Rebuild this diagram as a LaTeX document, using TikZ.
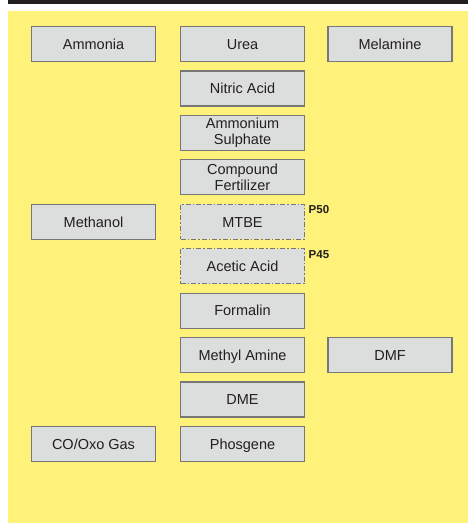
\documentclass[tikz,border=0pt]{standalone}
\usepackage{fontspec}
\setmainfont{Liberation Sans}
\definecolor{bgyellow}{HTML}{FFF27A}
\definecolor{boxfill}{HTML}{DCDDDD}
\definecolor{boxline}{HTML}{777777}
\definecolor{ink}{HTML}{231F20}
\begin{document}
\begin{tikzpicture}[x=1pt,y=-1pt,
  base/.style={draw=boxline, line width=1.3pt, fill=boxfill, minimum width=124pt, minimum height=35pt,
    inner sep=0pt, align=center, text=ink, font=\fontsize{14.5}{15.8}\selectfont},
  prod/.style={base, text height=13pt, text depth=2.6pt},
  prodtwo/.style={base},
  planned/.style={prod, dash pattern=on 5pt off 2pt on 1.5pt off 2pt},
  tag/.style={anchor=west, inner sep=0pt, text=ink, font=\fontsize{11.5}{12}\selectfont\bfseries}]
\useasboundingbox (0,0) rectangle (468,524);
\fill[ink] (8,0) rectangle (468,4);
\fill[bgyellow] (8,11) rectangle (468,523);
\def\ca{93.5}\def\cb{242.5}\def\cc{390}
\node[prod] (ammonia) at (\ca,44) {Ammonia};
\node[prod] (urea) at (\cb,44) {Urea};
\node[prod] (melamine) at (\cc,44) {Melamine};
\node[prod] (nitric) at (\cb,88.4) {Nitric Acid};
\node[prodtwo] (sulphate) at (\cb,132.9) {Ammonium\\Sulphate};
\node[prodtwo] (compound) at (\cb,177.3) {Compound\\Fertilizer};
\node[prod] (methanol) at (\ca,221.8) {Methanol};
\node[planned] (mtbe) at (\cb,221.8) {MTBE};
\node[planned] (acetic) at (\cb,266.2) {Acetic Acid};
\node[prod] (formalin) at (\cb,310.7) {Formalin};
\node[prod] (amine) at (\cb,355.1) {Methyl Amine};
\node[prod] (dmf) at (\cc,355.1) {DMF};
\node[prod] (dme) at (\cb,399.6) {DME};
\node[prod] (oxo) at (\ca,444) {CO/Oxo Gas};
\node[prod] (phosgene) at (\cb,444) {Phosgene};
\node[tag] (p50) at (308.5,210) {P50};
\node[tag] (p45) at (308.5,254.4) {P45};
\end{tikzpicture}
\end{document}
